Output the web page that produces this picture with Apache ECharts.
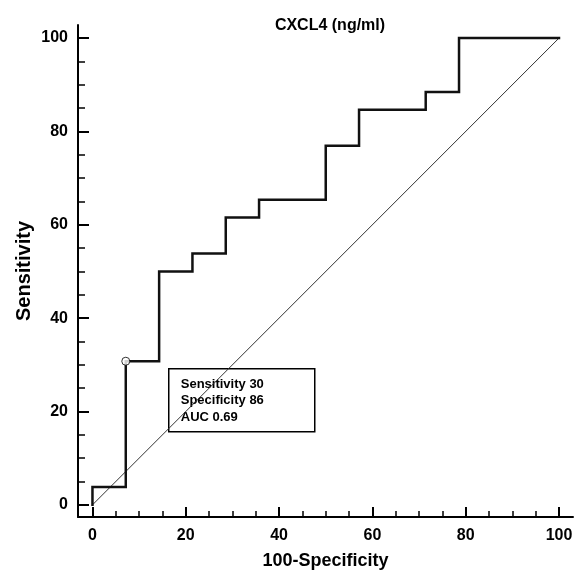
<!DOCTYPE html>
<html lang="en">
<head>
  <meta charset="UTF-8">
  <title>CXCL4 (ng/ml)</title>
  <script src="https://cdn.jsdelivr.net/npm/echarts@6/dist/echarts.min.js"></script>
  <style>
    html, body { margin: 0; padding: 0; background: #fff; }
    #main { width: 576px; height: 570px; }
  </style>
</head>
<body>
  <div id="main"></div>
  <script>
    // ROC curve vertices (100-Specificity, Sensitivity)
    var fpr = [0, 0, 7.14, 7.14, 14.29, 14.29, 21.43, 21.43, 28.57, 28.57, 35.71, 35.71, 50, 50, 57.14, 57.14, 71.43, 71.43, 78.57, 78.57, 100]
    var tpr = [0, 3.85, 3.85, 30.77, 30.77, 50, 50, 53.85, 53.85, 61.54, 61.54, 65.38, 65.38, 76.92, 76.92, 84.62, 84.62, 88.46, 88.46, 100, 100]
    var diagonal = [[0, 0], [100, 100]]
    var cutoff = [[7.14, 30.77]]
    var majorTicks = [0, 20, 40, 60, 80, 100]
    var minorTicks = [5, 10, 15, 25, 30, 35, 45, 50, 55, 65, 70, 75, 85, 90, 95]
    var boxLines = ['Sensitivity 30', 'Specificity 86', 'AUC 0.69']

    var font = 'Arial, "Liberation Sans", sans-serif'
    var myChart = echarts.init(document.getElementById('main'))

    var labelStyle = { color: '#000', fontWeight: 'bold', fontSize: 16, fontFamily: font }

    var option = {
      animation: false,
      backgroundColor: '#fff',
      title: {
        text: 'CXCL4 (ng/ml)',
        left: 325,
        top: 13,
        textAlign: 'center',
        textStyle: { color: '#000', fontWeight: 'bold', fontSize: 16, fontFamily: font }
      },
      grid: { left: 78, right: 3, top: 25, bottom: 53, outerBoundsMode: 'none', containLabel: false },
      xAxis: [
        {
          type: 'value',
          position: 'bottom',
          min: -3.1,
          max: 103,
          name: '100-Specificity',
          nameLocation: 'middle',
          nameGap: 35,
          nameTextStyle: { color: '#000', fontWeight: 'bold', fontSize: 18, fontFamily: font },
          axisLine: { onZero: false, lineStyle: { color: '#000', width: 2 } },
          axisTick: { inside: true, length: 10, customValues: majorTicks, lineStyle: { color: '#000', width: 2 } },
          axisLabel: Object.assign({ customValues: majorTicks, margin: 11 }, labelStyle),
          splitLine: { show: false }
        },
        {
          type: 'value',
          position: 'bottom',
          min: -3.1,
          max: 103,
          axisLine: { show: false, onZero: false },
          axisTick: { inside: true, length: 6, customValues: minorTicks, lineStyle: { color: '#000', width: 1.5 } },
          axisLabel: { show: false },
          splitLine: { show: false }
        }
      ],
      yAxis: [
        {
          type: 'value',
          position: 'left',
          min: -2.6,
          max: 102.8,
          name: 'Sensitivity',
          nameLocation: 'middle',
          nameRotate: 90,
          nameGap: 44,
          nameMoveOverlap: false,
          nameTextStyle: { color: '#000', fontWeight: 'bold', fontSize: 20, fontFamily: font },
          axisLine: { onZero: false, lineStyle: { color: '#000', width: 2 } },
          axisTick: { inside: true, length: 11, customValues: majorTicks, lineStyle: { color: '#000', width: 2 } },
          axisLabel: Object.assign({ customValues: majorTicks, margin: 10 }, labelStyle),
          splitLine: { show: false }
        },
        {
          type: 'value',
          position: 'left',
          min: -2.6,
          max: 102.8,
          axisLine: { show: false, onZero: false },
          axisTick: { inside: true, length: 7, customValues: minorTicks, lineStyle: { color: '#000', width: 1.5 } },
          axisLabel: { show: false },
          splitLine: { show: false }
        }
      ],
      series: [
        {
          type: 'line',
          data: diagonal,
          symbol: 'none',
          silent: true,
          lineStyle: { color: '#333', width: 1 },
          z: 2
        },
        {
          type: 'line',
          data: fpr.map((v, i) => [v, tpr[i]]),
          symbol: 'none',
          lineStyle: { color: '#111', width: 2.5, join: 'miter', cap: 'square' },
          z: 3
        },
        {
          type: 'scatter',
          data: cutoff,
          symbol: 'circle',
          symbolSize: 8,
          itemStyle: { color: '#fff', borderColor: '#000', borderWidth: 1 },
          z: 4
        }
      ],
      graphic: [
        {
          type: 'group',
          left: 168,
          top: 368,
          z: 100,
          children: [
            {
              type: 'rect',
              shape: { x: 0, y: 0, width: 146, height: 63 },
              style: { fill: '#fff', stroke: '#000', lineWidth: 1.5 }
            },
            {
              type: 'text',
              x: 12,
              y: 7,
              style: { text: boxLines.join('\n'), font: 'bold 13px ' + font, lineHeight: 16.5, fill: '#000' }
            }
          ]
        }
      ]
    }
    myChart.setOption(option)
  </script>
</body>
</html>
